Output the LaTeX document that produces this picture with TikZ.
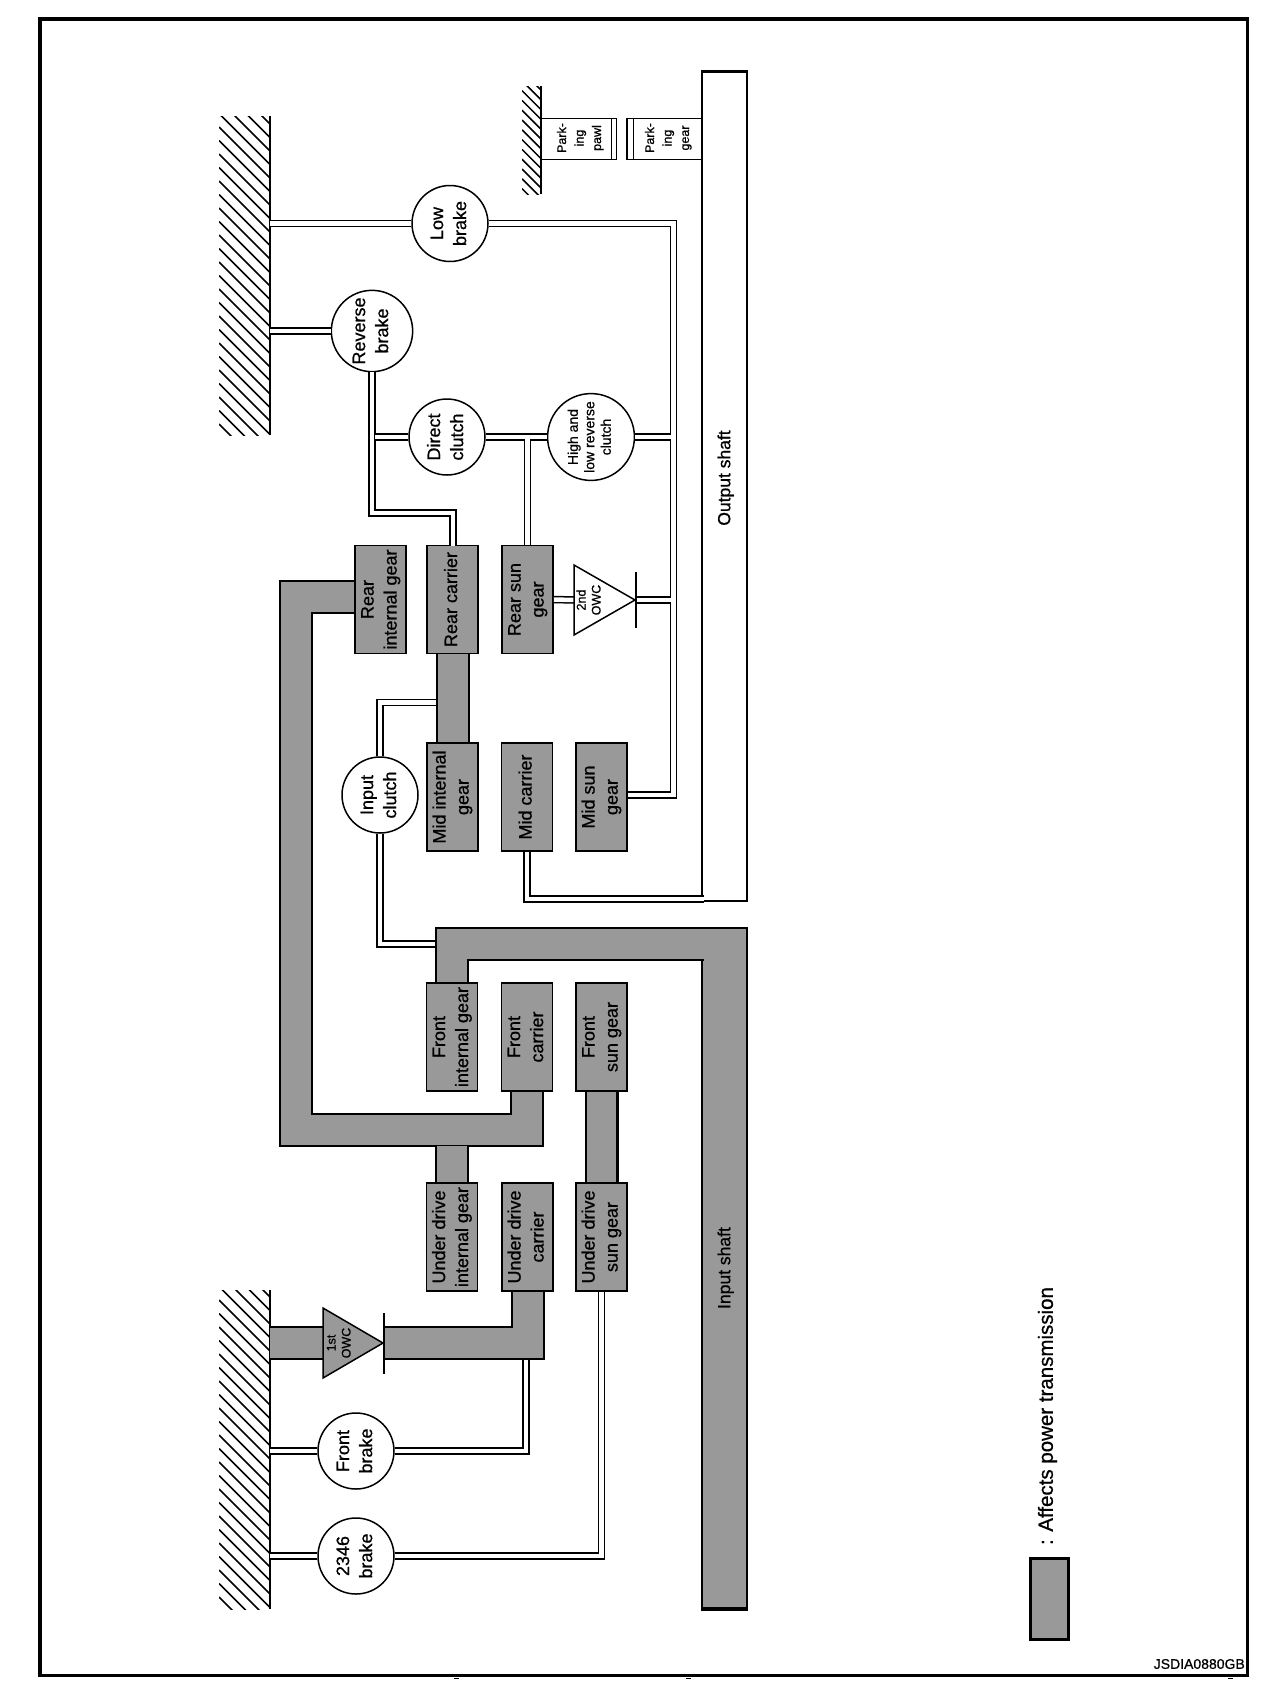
\documentclass[tikz,border=0pt]{standalone}
\usepackage{fontspec}
\setmainfont[FakeBold=0.7]{Liberation Sans}
\usetikzlibrary{calc}
\definecolor{dither}{gray}{0.6}
\newcommand{\turned}[1]{\rotatebox{90}{\begin{tabular}{@{}c@{}}#1\end{tabular}}}
\newcommand{\groundhatch}[6]{
  \begin{scope}
    \clip (#1,#3) rectangle (#2,#4);
    \foreach \y in {#5,#6,...,#4} {
      \draw[hatch] (#1,\y) -- ++(#2-#1,#2-#1);
    }
  \end{scope}
  \draw[groundline] (#2,#3) -- (#2,#4);
}
\tikzset{
  hatch/.style={
    line width=1.5pt
  },
  groundline/.style={
    line width=2pt
  },
  brake/.style={
    shape = circle,
    draw,
    fill=white,
    line width=1.5pt,
    inner sep = 0pt,
    minimum size=76pt,
    font=\fontsize{18}{23}\selectfont
  },
  gear/.style={
    shape = rectangle,
    draw,
    fill=dither,
    line width=1.6pt,
    inner sep = 0pt,
    minimum width=51pt,
    minimum height=108pt,
    font=\fontsize{18}{23}\selectfont
  },
  shaftbox/.style={
    shape = rectangle,
    draw,
    line width=2pt,
    inner sep = 0pt,
    minimum width=45pt
  },
  parkbox/.style={
    shape = rectangle,
    draw,
    line width=1.5pt,
    inner sep = 0pt,
    minimum width=75pt,
    minimum height=41pt
  },
  caption/.style={
    inner sep = 0pt,
    font=\fontsize{17.5}{21}\selectfont
  },
  shaft/.style={
    line width=1.5pt,
    double=white,
    double distance=4.5pt
  },
  heavyshaft/.style={
    line width=2.2pt,
    double=white,
    double distance=3.8pt
  },
  band/.style={
    line width=2pt,
    double=dither,
    double distance=30pt
  },
  owc/.style={
    draw,
    line width=1.5pt
  },
  owcbar/.style={
    line width=2pt
  }
}
\begin{document}
\begin{tikzpicture}[x=1pt,y=-1pt]
  \useasboundingbox (0,0) rectangle (1280,1682);
  \draw[line width=3.5pt] (40,19) rectangle (1247.5,1675.6);
  \foreach \x in {454,686,1228} {
    \draw[line width=1pt] (\x,1678.5) -- ++(5,0);
  }

  % ground
  \groundhatch{219}{270}{116}{435}{73}{86.5}
  \groundhatch{219}{270}{1290}{1609}{1246}{1259.5}
  \groundhatch{522}{541}{86}{194}{71}{80.8}
  \coordinate (groundtop) at (270,116);
  \coordinate (groundbottom) at (270,1290);

  % brakes and clutches
  \node[brake] (lowbrake) at (450,223.5) {\turned{Low\\brake}};
  \node[brake] (reversebrake) at (372,331) {\turned{Reverse\\brake}};
  \node[brake] (directclutch) at (447,437) {\turned{Direct\\clutch}};
  \node[brake,font=\fontsize{14}{16.5}\selectfont] (highlow) at (591,437) {\turned{High and\\low reverse\\clutch}};
  \node[brake] (inputclutch) at (380,795) {\turned{Input\\clutch}};
  \node[brake] (frontbrake) at (356,1451) {\turned{Front\\brake}};
  \node[brake] (brakeb) at (356,1556) {\turned{2346\\brake}};

  % gears
  \node[gear] (rearinternal) at (380.5,599.5) {\turned{Rear\\internal gear}};
  \node[gear] (rearcarrier) at (452.5,599.5) {\turned{Rear carrier}};
  \node[gear] (rearsun) at (527.5,599.5) {\turned{Rear sun\\gear}};
  \node[gear] (midinternal) at (452.5,797) {\turned{Mid internal\\gear}};
  \node[gear] (midcarrier) at (527,797) {\turned{Mid carrier}};
  \node[gear] (midsun) at (601.5,797) {\turned{Mid sun\\gear}};
  \node[gear] (frontinternal) at (452,1037) {\turned{Front\\internal gear}};
  \node[gear] (frontcarrier) at (527,1037) {\turned{Front\\carrier}};
  \node[gear] (frontsun) at (601.5,1037) {\turned{Front\\sun gear}};
  \node[gear] (underinternal) at (452,1237) {\turned{Under drive\\internal gear}};
  \node[gear] (undercarrier) at (527.5,1237) {\turned{Under drive\\carrier}};
  \node[gear] (undersun) at (601.5,1237) {\turned{Under drive\\sun gear}};

  % shafts
  \node[shaftbox,minimum height=829pt] (outputshaft) at (724.5,486.5) {};
  \draw[line width=3pt] (outputshaft.north west) -- (outputshaft.north east);
  \node[caption] at (726,478) {\turned{Output shaft}};
  \node[shaftbox,fill=dither,minimum height=680pt] (inputshaft) at (724.5,1268) {};
  \draw[line width=3pt] (inputshaft.south west) -- (inputshaft.south east);
  \node[caption] at (726,1268) {\turned{Input shaft}};

  % parking
  \node[parkbox] (parkpawl) at (579,139) {};
  \node[parkbox] (parkgear) at (664.5,139) {};
  \draw[line width=1.5pt] ([xshift=-6pt]parkpawl.north east) -- ([xshift=-6pt]parkpawl.south east);
  \draw[line width=1.5pt] ([xshift=7pt]parkgear.north west) -- ([xshift=7pt]parkgear.south west);
  \node[caption,font=\fontsize{12.5}{17.5}\selectfont] at (580,138) {\turned{Park-\\ing\\pawl}};
  \node[caption,font=\fontsize{12.5}{17.5}\selectfont] at (668,138) {\turned{Park-\\ing\\gear}};

  % one way clutches
  \coordinate (owconebase) at (323,1343);
  \coordinate (owconetip) at (383,1343);
  \coordinate (owctwobase) at (574,600);
  \coordinate (owctwotip) at (635,600);

  % thin lines
  \coordinate (trunkend) at (673.5,795);
  \draw[shaft] (lowbrake.west) -- (lowbrake.west -| groundtop);
  \draw[shaft] (lowbrake.east) -| (trunkend) -- (trunkend -| midsun.east);
  \draw[shaft] (highlow.east) -- (671,437);
  \draw[shaft] (reversebrake.west) -- (reversebrake.west -| groundtop);
  \draw[heavyshaft] (reversebrake.south) |- (453,513) -- (453,545.5);
  \draw[shaft] (directclutch.west) -- (375,437);
  \draw[shaft] (directclutch.east) -- (highlow.west);
  \draw[shaft] (rearsun.north) -- (527.5,439);
  \draw[shaft] (rearsun.east) -- (owctwobase);
  \draw[shaft] (owctwotip) -- (671,600);
  \draw[shaft] (inputclutch.south) |- (436,944);
  \draw[shaft] (inputclutch.north) |- (437,702.5);
  \draw[heavyshaft] (midcarrier.south) |- (703.5,899);
  \draw[shaft] (frontbrake.west) -- (frontbrake.west -| groundbottom);
  \draw[heavyshaft] (frontbrake.east) -| (526,1360);
  \draw[shaft] (brakeb.west) -- (brakeb.west -| groundbottom);
  \draw[shaft] (brakeb.east) -| (undersun.south);

  % power bands
  \draw[band] (rearcarrier.south) -- (midinternal.north);
  \draw[band] ([yshift=2.5pt]rearinternal.west) -| (296,1130) -| (frontcarrier.south);
  \draw[band] (underinternal.north) -- (452,1146);
  \draw[band] (frontsun.south) -- (undersun.north);
  \draw[line width=3pt] ([xshift=16pt]frontsun.south) -- ([xshift=16pt]undersun.north);
  \draw[band] (frontinternal.north) |- (703.5,944);
  \draw[band] (undercarrier.south) |- (384,1343);
  \draw[band] (owconebase) -- (owconebase -| groundbottom);

  \draw[owc,fill=dither] (owconebase) ++(0,-35) -- (owconetip) -- ++(-60,35) -- cycle;
  \draw[owc,fill=white] (owctwobase) ++(0,-35) -- (owctwotip) -- ++(-61,35) -- cycle;
  \draw[owcbar] ([xshift=1pt]owconetip) ++(0,-30) -- ++(0,61);
  \draw[owcbar] ([xshift=1pt]owctwotip) ++(0,-28) -- ++(0,56);
  \node[caption,font=\fontsize{12.5}{15}\selectfont] at (340,1343) {\turned{1st\\OWC}};
  \node[caption,font=\fontsize{12.5}{15}\selectfont] at (590,600) {\turned{2nd\\OWC}};

  % legend
  \node[gear,line width=2.5pt,minimum width=38pt,minimum height=81pt] (legendbox) at (1049.5,1599) {};
  \node[caption,font=\fontsize{20.5}{24}\selectfont] (legendtext) at (1048,1416) {\turned{: Affects power transmission}};
  \node[caption,font=\fontsize{14}{16}\selectfont,anchor=east] (figcode) at (1245,1664) {JSDIA0880GB};
\end{tikzpicture}
\end{document}
